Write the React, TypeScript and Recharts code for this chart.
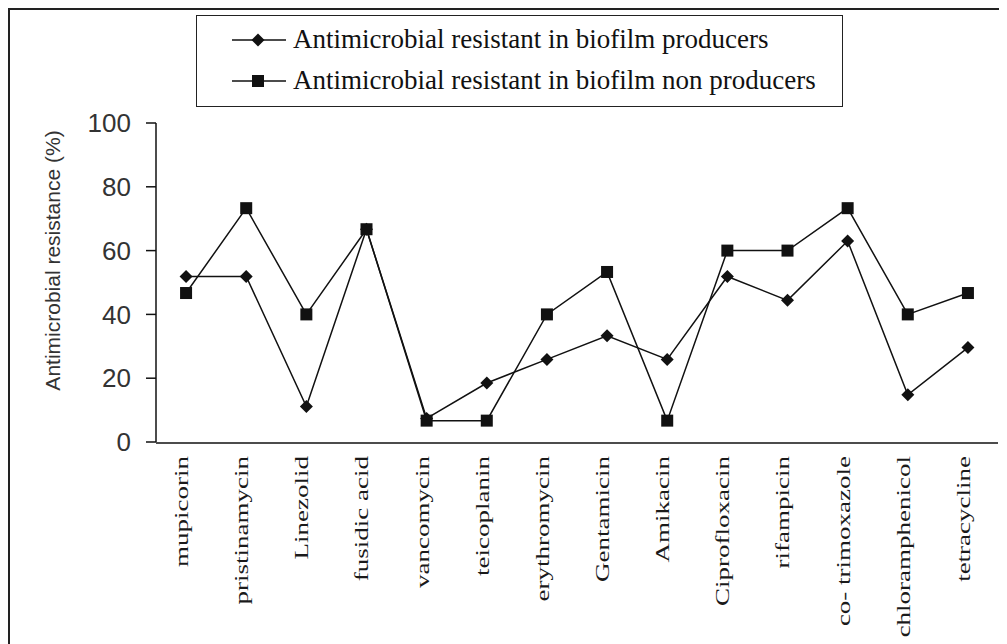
import { ComposedChart, Line, XAxis, YAxis, Legend } from 'recharts';

const antibiotics = [
  'mupicorin',
  'pristinamycin',
  'Linezolid',
  'fusidic acid',
  'vancomycin',
  'teicoplanin',
  'erythromycin',
  'Gentamicin',
  'Amikacin',
  'Ciprofloxacin',
  'rifampicin',
  'co- trimoxazole',
  'chloramphenicol',
  'tetracycline',
];

// % resistant among biofilm producers
const producers = [51.9, 51.9, 11.1, 66.7, 7.4, 18.5, 25.9, 33.3, 25.9, 51.9, 44.4, 63.0, 14.8, 29.6];
// % resistant among biofilm non producers
const nonProducers = [46.7, 73.3, 40, 66.7, 6.7, 6.7, 40, 53.3, 6.7, 60, 60, 73.3, 40, 46.7];

const yTicks = [0, 20, 40, 60, 80, 100];
const bandEdges = [0, 1, 2, 3, 4, 5, 6, 7, 8, 9, 10, 11, 12, 13, 14];

const seriesNames = [
  'Antimicrobial resistant in biofilm producers',
  'Antimicrobial resistant in biofilm non producers',
];

const chartData = antibiotics.map((name, i) => ({
  name,
  producers: producers[i],
  nonProducers: nonProducers[i],
}));

const INK = '#111';
const SERIF = '"Liberation Serif", "Times New Roman", serif';
const SANS = '"Liberation Sans", Arial, sans-serif';

function Diamond({ cx, cy }: any) {
  if (cx == null || cy == null) return null;
  const r = 6.5;
  return (
    <polygon
      points={`${cx},${cy - r} ${cx + r},${cy} ${cx},${cy + r} ${cx - r},${cy}`}
      fill={INK}
    />
  );
}

function Square({ cx, cy }: any) {
  if (cx == null || cy == null) return null;
  const s = 12;
  return <rect x={cx - s / 2} y={cy - s / 2} width={s} height={s} fill={INK} />;
}

// the rotated category names look squeezed across their width in the original
function CategoryTick({ x, y, payload }: any) {
  return (
    <g transform={`translate(${x}, ${y}) rotate(-90) scale(1, 0.72)`}>
      <text
        x={0}
        y={0}
        textAnchor='end'
        dy='0.1em'
        fontFamily={SERIF}
        fontSize={27}
        fill='#1a1a1a'
      >
        {payload.value}
      </text>
    </g>
  );
}

function YLabel({ viewBox }: any) {
  const x = viewBox.x + 50;
  const y = viewBox.y + viewBox.height / 2 - 22;
  return (
    <text
      x={x}
      y={y}
      transform={`rotate(-90, ${x}, ${y})`}
      textAnchor='middle'
      fontFamily={SANS}
      fontSize={21}
      fill='#333'
    >
      Antimicrobial resistance (%)
    </text>
  );
}

function LegendIcon({ kind }: { kind: 'diamond' | 'square' }) {
  return (
    <svg width={54} height={16} style={{ marginRight: 7, flexShrink: 0 }}>
      <line x1={0} y1={8} x2={54} y2={8} stroke={INK} strokeWidth={1.5} />
      {kind === 'diamond' ? <Diamond cx={26} cy={8} /> : <Square cx={26} cy={8} />}
    </svg>
  );
}

function ChartLegend() {
  return (
    <div
      style={{
        width: 647,
        height: 92,
        border: '1.5px solid #222',
        boxSizing: 'border-box',
        paddingLeft: 35,
        paddingTop: 3,
        fontFamily: SERIF,
        fontSize: 27,
        color: '#111',
        textAlign: 'left',
        whiteSpace: 'nowrap',
      }}
    >
      <div style={{ display: 'flex', alignItems: 'center', height: 41 }}>
        <LegendIcon kind='diamond' />
        <span>{seriesNames[0]}</span>
      </div>
      <div style={{ display: 'flex', alignItems: 'center', height: 41 }}>
        <LegendIcon kind='square' />
        <span>{seriesNames[1]}</span>
      </div>
    </div>
  );
}

export default function App() {
  return (
    <div
      style={{
        width: 997,
        height: 634,
        borderTop: '2px solid #222',
        borderLeft: '2px solid #222',
        overflow: 'hidden',
        background: '#fff',
      }}
    >
      <style>{'body { overflow: hidden; }'}</style>
      <ComposedChart
        width={990}
        height={634}
        data={chartData}
        margin={{ top: 113, right: 2, bottom: 200, left: 0 }}
      >
        {/* two thin x axes on the plot's bottom edge: one draws the names, the other the axis line and the ticks between categories */}
        <XAxis
          xAxisId='cat'
          dataKey='name'
          scale='band'
          interval={0}
          height={1}
          axisLine={false}
          tickLine={false}
          tickSize={0}
          tickMargin={14}
          tick={<CategoryTick />}
        />
        <XAxis
          xAxisId='edges'
          type='number'
          domain={[0, 14]}
          allowDataOverflow
          ticks={bandEdges}
          tick={false}
          tickSize={10}
          height={1}
          axisLine={{ stroke: INK, strokeWidth: 1.5 }}
          tickLine={{ stroke: INK, strokeWidth: 1.5 }}
        />
        <YAxis
          width={146}
          domain={[0, 100]}
          ticks={yTicks}
          tickSize={10}
          tickMargin={15}
          axisLine={{ stroke: INK, strokeWidth: 1.5 }}
          tickLine={{ stroke: INK, strokeWidth: 1.5 }}
          tick={{ fontFamily: SANS, fontSize: 26, fill: '#333' }}
          label={<YLabel />}
        />
        <Legend
          layout='vertical'
          align='center'
          verticalAlign='middle'
          wrapperStyle={{ left: 186, top: 5, width: 647 }}
          content={() => <ChartLegend />}
        />
        <Line
          xAxisId='cat'
          dataKey='producers'
          name={seriesNames[0]}
          stroke={INK}
          strokeWidth={1.5}
          dot={<Diamond />}
          activeDot={false}
          isAnimationActive={false}
        />
        <Line
          xAxisId='cat'
          dataKey='nonProducers'
          name={seriesNames[1]}
          stroke={INK}
          strokeWidth={1.5}
          dot={<Square />}
          activeDot={false}
          isAnimationActive={false}
        />
      </ComposedChart>
    </div>
  );
}
